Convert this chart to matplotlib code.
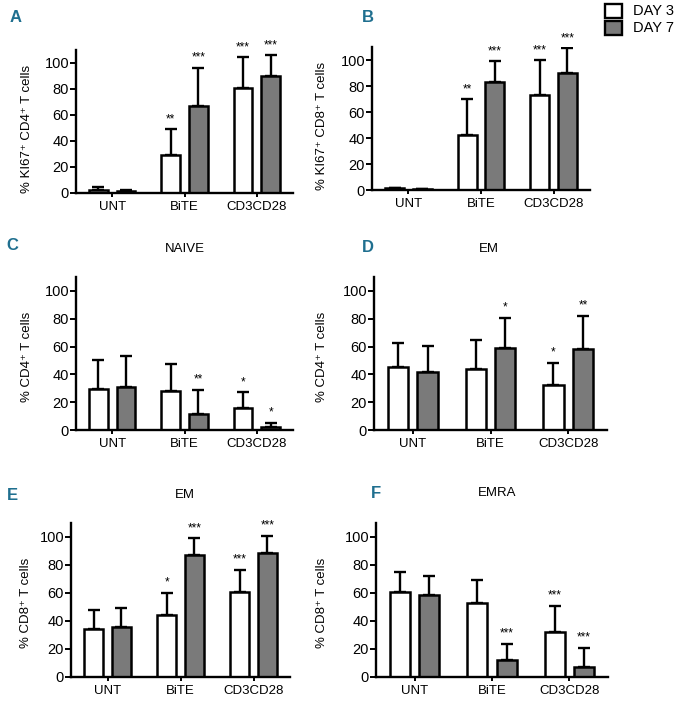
import matplotlib
matplotlib.use("Agg")
import matplotlib.pyplot as plt
import numpy as np
from matplotlib.patches import Rectangle

plt.rcParams['font.family'] = ['Liberation Sans Narrow', 'Liberation Sans', 'DejaVu Sans']

groups = ["UNT", "BiTE", "CD3CD28"]

# panel A: % KI67+ CD4+
a_day3 = [2.5, 29, 81]
a_day3_err = [2.5, 20, 23.5]
a_day7 = [1.5, 67, 90]
a_day7_err = [1.0, 29.5, 16]
a_stars3 = ["", "**", "***"]
a_stars7 = ["", "***", "***"]

# panel B: % KI67+ CD8+
b_day3 = [1.3, 42, 73]
b_day3_err = [0.5, 28, 27]
b_day7 = [0.5, 83, 90]
b_day7_err = [0.0, 16, 19]
b_stars3 = ["", "**", "***"]
b_stars7 = ["", "***", "***"]

# panel C: naive CD4+
c_day3 = [29.5, 28, 15.5]
c_day3_err = [20.5, 19.5, 11.5]
c_day7 = [31, 11.5, 2]
c_day7_err = [22, 17.5, 3]
c_stars3 = ["", "", "*"]
c_stars7 = ["", "**", "*"]

# panel D: EM CD4+
d_day3 = [45, 44, 32]
d_day3_err = [17.5, 20.5, 16.5]
d_day7 = [42, 59, 58]
d_day7_err = [18.5, 21.5, 24]
d_stars3 = ["", "", "*"]
d_stars7 = ["", "*", "**"]

# panel E: EM CD8+
e_day3 = [34, 44, 60.5]
e_day3_err = [14, 16, 16]
e_day7 = [36, 87, 88.5]
e_day7_err = [13, 12, 12.5]
e_stars3 = ["", "*", "***"]
e_stars7 = ["", "***", "***"]

# panel F: EMRA CD8+
f_day3 = [60.5, 53, 32]
f_day3_err = [14.5, 16, 19]
f_day7 = [58.5, 12, 7.5]
f_day7_err = [14, 11.5, 13.5]
f_stars3 = ["", "", "***"]
f_stars7 = ["", "***", "***"]

gray = "#7a7a7a"
blue = "#1f6f8f"
W, H = 676, 701

fig = plt.figure(figsize=(W / 100, H / 100), dpi=100)


def add_ax(l, r, b, t):
    return fig.add_axes([l / W, 1 - b / H, (r - l) / W, (b - t) / H])


def panel(ax, d3, e3, d7, e7, s3, s7, ylabel, lab_x, lab_y):
    x = np.arange(len(groups))
    off, bw = 0.19, 0.26
    ax.bar(x - off, d3, bw, color="white", edgecolor="black", linewidth=1.8, zorder=2)
    ax.bar(x + off, d7, bw, color=gray, edgecolor="black", linewidth=1.8, zorder=2)
    for xs, v, e in ((x - off, d3, e3), (x + off, d7, e7)):
        ax.errorbar(xs, v, yerr=[np.zeros(len(v)), e], fmt="none", ecolor="black",
                    elinewidth=1.7, capsize=4, capthick=1.7, zorder=1)
    for xs, v, e, s in ((x - off, d3, e3, s3), (x + off, d7, e7, s7)):
        for xi, vi, ei, si in zip(xs, v, e, s):
            if si:
                ax.text(xi, vi + ei + 3, si, ha="center", va="bottom", fontsize=8.5)
    ax.set_xlim(-0.5, 2.5)
    ax.set_ylim(0, 110)
    ax.set_yticks([0, 20, 40, 60, 80, 100])
    ax.set_xticks(x)
    ax.set_xticklabels(groups)
    ax.tick_params(axis="y", labelsize=10.5, length=4, width=1.4, pad=1)
    ax.tick_params(axis="x", labelsize=9.5, length=3, width=1.4, pad=3)
    for sp in ("top", "right"):
        ax.spines[sp].set_visible(False)
    for sp in ("left", "bottom"):
        ax.spines[sp].set_linewidth(1.7)
    ax.set_ylabel(ylabel, fontsize=9.5)
    ax.yaxis.set_label_coords(lab_x, lab_y)


ax_a = add_ax(76, 293, 193, 50)
panel(ax_a, a_day3, a_day3_err, a_day7, a_day7_err, a_stars3, a_stars7,
      "% KI67\u207a CD4\u207a T cells", -0.2, 0.45)
ax_b = add_ax(372, 590, 190, 47)
panel(ax_b, b_day3, b_day3_err, b_day7, b_day7_err, b_stars3, b_stars7,
      "% KI67\u207a CD8\u207a T cells", -0.2, 0.45)
ax_c = add_ax(76, 293, 430, 277)
panel(ax_c, c_day3, c_day3_err, c_day7, c_day7_err, c_stars3, c_stars7,
      "% CD4\u207a T cells", -0.2, 0.48)
ax_d = add_ax(374, 607, 430, 277)
panel(ax_d, d_day3, d_day3_err, d_day7, d_day7_err, d_stars3, d_stars7,
      "% CD4\u207a T cells", -0.197, 0.48)
ax_e = add_ax(71, 290, 677, 523)
panel(ax_e, e_day3, e_day3_err, e_day7, e_day7_err, e_stars3, e_stars7,
      "% CD8\u207a T cells", -0.18, 0.48)
ax_f = add_ax(376, 608, 677, 523)
panel(ax_f, f_day3, f_day3_err, f_day7, f_day7_err, f_stars3, f_stars7,
      "% CD8\u207a T cells", -0.207, 0.48)

# panel letters and titles
for letter, px, py in (("A", 16, 17), ("B", 368, 17), ("C", 12, 246),
                       ("D", 368, 248), ("E", 12, 495), ("F", 376, 493)):
    fig.text(px / W, 1 - py / H, letter, color=blue, fontsize=12, fontweight="bold",
             ha="center", va="center")
for title, px, py in (("NAIVE", 185, 249), ("EM", 489, 249),
                      ("EM", 185, 495), ("EMRA", 497, 493)):
    fig.text(px / W, 1 - py / H, title, fontsize=9.5, ha="center", va="center")

# legend
for label, fc, top in (("DAY 3", "white", 4), ("DAY 7", gray, 21)):
    fig.patches.append(Rectangle((605 / W, 1 - (top + 14) / H), 17 / W, 14 / H,
                                 facecolor=fc, edgecolor="black", linewidth=1.7,
                                 transform=fig.transFigure, figure=fig))
    fig.text(633 / W, 1 - (top + 7) / H, label, fontsize=10.5, va="center", ha="left")

fig.savefig("out.png", dpi=100)
